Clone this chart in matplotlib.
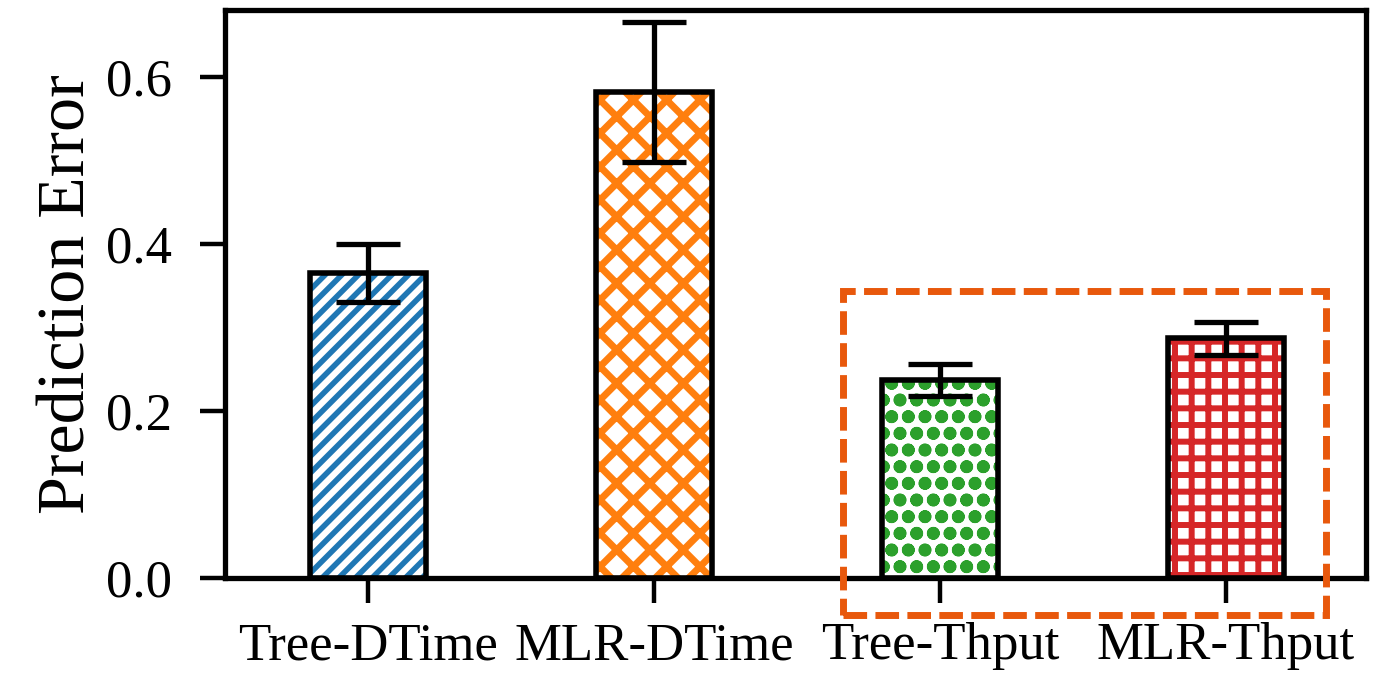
import numpy as np
import matplotlib.pyplot as plt
from matplotlib.patches import Rectangle

plt.rcParams['font.family'] = ['Liberation Serif', 'DejaVu Serif']

# data
labels = ["Tree-DTime", "MLR-DTime", "Tree-Thput", "MLR-Thput"]
values = [0.365, 0.582, 0.237, 0.287]
errors = [0.035, 0.084, 0.019, 0.020]
colors = ["#1f77b4", "#ff7f0e", "#2ca02c", "#d62728"]
hatches = ["//", "x", "o", "+"]
hatch_lw = [4.0, 5.0, 4.5, 4.3]

fig, ax = plt.subplots(figsize=(13.73, 6.75), dpi=100)
fig.subplots_adjust(left=0.164, right=0.995, top=0.985, bottom=0.144)

x = np.arange(len(labels))
w = 0.405
for i in range(len(labels)):
    with plt.rc_context({'hatch.linewidth': hatch_lw[i]}):
        ax.bar(x[i], values[i], w, color="white", edgecolor=colors[i],
               hatch=hatches[i], linewidth=0, zorder=2)
ax.bar(x, values, w, fill=False, edgecolor="black", linewidth=4.0, zorder=3)
ax.errorbar(x, values, yerr=errors, fmt="none", ecolor="black",
            elinewidth=3.8, capsize=23, capthick=3.8, zorder=4)

# dashed box around the throughput bars
box = Rectangle((1.66, -0.044), 3.35 - 1.66, 0.344 + 0.044, fill=False,
                edgecolor="#e8580c", linewidth=5.0, linestyle=(0, (3.4, 1.2)),
                clip_on=False, zorder=5)
ax.add_patch(box)

ax.set_xlim(-0.5, 3.49)
ax.set_ylim(0, 0.68)
ax.set_yticks([0.0, 0.2, 0.4, 0.6])
ax.set_yticklabels(["0.0", "0.2", "0.4", "0.6"])
ax.set_xticks(x)
ax.set_xticklabels(labels)
ax.set_ylabel("Prediction Error", fontsize=49, labelpad=6)
ax.tick_params(axis="both", labelsize=38, width=3.2, length=18, direction="out")
ax.tick_params(axis="x", pad=14)
ax.tick_params(axis="y", pad=20)
for s in ax.spines.values():
    s.set_linewidth(3.8)

plt.savefig("out.png", dpi=100)
